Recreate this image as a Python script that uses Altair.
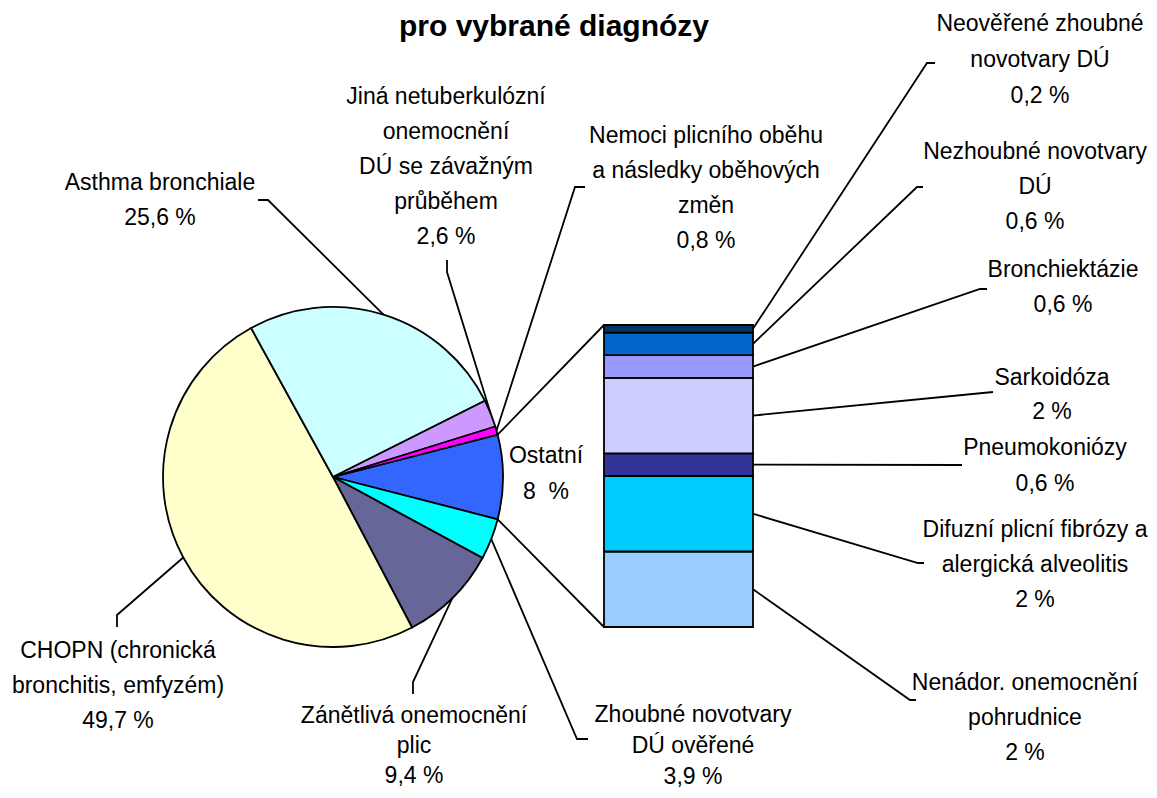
import math
import altair as alt
import pandas as pd

# ---------------- data ----------------
title_text = "pro vybrané diagnózy"

# pie slices, clockwise starting with the "Ostatní" slice (exploded into the bar)
pie_labels = [
    "Ostatní",
    "Zhoubné novotvary\nDÚ ověřené",
    "Zánětlivá onemocnění\nplic",
    "CHOPN (chronická\nbronchitis, emfyzém)",
    "Asthma bronchiale",
    "Jiná netuberkulózní\nonemocnění\nDÚ se závažným\nprůběhem",
    "Nemoci plicního oběhu\na následky oběhových\nzměn",
]
pie_values = [8.0, 3.9, 9.4, 49.7, 25.6, 2.6, 0.8]
pie_colors = ["#3366FF", "#00FFFF", "#666699", "#FFFFCC", "#CCFFFF", "#CC99FF", "#FF00FF"]

# bar of "Ostatní", bottom to top
bar_labels = [
    "Nenádor. onemocnění\npohrudnice",
    "Difuzní plicní fibrózy a\nalergická alveolitis",
    "Pneumokoniózy",
    "Sarkoidóza",
    "Bronchiektázie",
    "Nezhoubné novotvary\nDÚ",
    "Neověřené zhoubné\nnovotvary DÚ",
]
bar_values = [2.0, 2.0, 0.6, 2.0, 0.6, 0.6, 0.2]
bar_colors = ["#99CCFF", "#00CCFF", "#333399", "#CCCCFF", "#9999FF", "#0066CC", "#003366"]

# ---------------- layout (page pixel coordinates) ----------------
W, H = 1141, 782
M = 8
PIE_CX, PIE_CY, PIE_R = 333, 477, 170
BAR_X0, BAR_X1, BAR_Y_BOTTOM, BAR_Y_TOP = 604, 753, 627, 325
FONT = "Liberation Sans, Arial, sans-serif"

# label placement: (center x, first line center y, line gap)
pie_label_pos = [
    (546, 456, 36),
    (693, 715, 31),
    (414, 716, 30),
    (118, 651, 35),
    (160, 183, 35),
    (446, 97, 35),
    (706, 136, 35),
]
# leader elbows for pie labels (after the anchor, toward the label)
pie_leader = [
    None,
    [(577, 739), (588, 739)],
    [(413, 682), (413, 694)],
    [(117, 615), (117, 627)],
    [(268, 200), (258, 200)],
    [(447, 272), (447, 260)],
    [(575, 187), (585, 187)],
]
bar_label_pos = [
    (1025, 683, 35),
    (1035, 530, 35),
    (1045, 448, 36),
    (1052, 378, 34),
    (1063, 270, 35),
    (1035, 152, 35),
    (1040, 24, 36),
]
bar_leader = [
    [(910, 700), (916, 700)],
    [(918, 563), (924, 563)],
    [(962, 465)],
    [(993, 392)],
    [(980, 289), (987, 289)],
    [(917, 187), (923, 187)],
    [(927, 63), (935, 63)],
]


def fmt(v):
    return f"{v:g}".replace(".", ",") + " %"


# ---------------- derived tables ----------------
total = sum(pie_values)
start_deg = 90 - pie_values[0] / total * 360 / 2
start_rad = math.radians(start_deg)

pie_df = pd.DataFrame({
    "label": pie_labels, "value": pie_values, "color": pie_colors,
    "idx": list(range(len(pie_values))),
})

cum = 0.0
bar_start, bar_end = [], []
for v in bar_values:
    bar_start.append(cum)
    cum += v
    bar_end.append(cum)
bar_total = cum
bar_df = pd.DataFrame({"label": bar_labels, "value": bar_values, "color": bar_colors,
                       "start": bar_start, "end": bar_end})


def pie_point(deg):
    a = math.radians(deg)
    return (PIE_CX + PIE_R * math.sin(a), PIE_CY - PIE_R * math.cos(a))


def bar_y(v):
    return BAR_Y_BOTTOM - (BAR_Y_BOTTOM - BAR_Y_TOP) * v / bar_total


lines = []
text_rows = []
acc = start_deg
for i, (lab, v) in enumerate(zip(pie_labels, pie_values)):
    a0 = acc
    a1 = acc + v / total * 360
    acc = a1
    cx, cy, gap = pie_label_pos[i]
    parts = lab.split("\n") + [("8\u00a0\u00a0%" if i == 0 else fmt(v))]
    for k, t in enumerate(parts):
        text_rows.append({"px": cx, "py": cy + k * gap, "text": t})
    if pie_leader[i] is not None:
        pts = [pie_point((a0 + a1) / 2)] + pie_leader[i]
        for k, (x, y) in enumerate(pts):
            lines.append({"id": f"p{i}", "idx": k, "px": x, "py": y})
    if i == 0:
        for j, (ang, by) in enumerate([(a0, BAR_Y_TOP), (a1, BAR_Y_BOTTOM)]):
            x, y = pie_point(ang)
            lines.append({"id": f"c{j}", "idx": 0, "px": x, "py": y})
            lines.append({"id": f"c{j}", "idx": 1, "px": BAR_X0, "py": by})

for i, (lab, v) in enumerate(zip(bar_labels, bar_values)):
    cx, cy, gap = bar_label_pos[i]
    parts = lab.split("\n") + [fmt(v)]
    for k, t in enumerate(parts):
        text_rows.append({"px": cx, "py": cy + k * gap, "text": t})
    mid = (bar_start[i] + bar_end[i]) / 2
    pts = [(BAR_X1, bar_y(mid))] + bar_leader[i]
    for k, (x, y) in enumerate(pts):
        lines.append({"id": f"b{i}", "idx": k, "px": x, "py": y})

lines_df = pd.DataFrame(lines)
text_df = pd.DataFrame(text_rows)

xs = alt.Scale(domain=[M, M + W], range=[0, W])
ys = alt.Scale(domain=[M, M + H], range=[0, H])

pie = alt.Chart(pie_df).mark_arc(outerRadius=PIE_R, stroke="black", strokeWidth=1.8).encode(
    theta=alt.Theta("value:Q", stack=True,
                    scale=alt.Scale(range=[start_rad, start_rad + 2 * math.pi])),
    order=alt.Order("idx:Q"),
    color=alt.Color("color:N", scale=None),
    x=alt.value(PIE_CX - M),
    y=alt.value(PIE_CY - M),
)

bar = alt.Chart(bar_df).mark_rect(stroke="black", strokeWidth=1.8).encode(
    y=alt.Y("start:Q", scale=alt.Scale(domain=[0, bar_total],
                                        range=[BAR_Y_BOTTOM - M, BAR_Y_TOP - M]), axis=None),
    y2="end:Q",
    x=alt.value(BAR_X0 - M),
    x2=alt.value(BAR_X1 - M),
    color=alt.Color("color:N", scale=None),
)

leaders = alt.Chart(lines_df).mark_line(color="black", strokeWidth=1.8).encode(
    x=alt.X("px:Q", scale=xs, axis=None),
    y=alt.Y("py:Q", scale=ys, axis=None),
    detail="id:N",
    order="idx:Q",
)

labels = alt.Chart(text_df).mark_text(
    font=FONT, fontSize=23, color="black", align="center", baseline="middle"
).encode(
    x=alt.X("px:Q", scale=xs, axis=None),
    y=alt.Y("py:Q", scale=ys, axis=None),
    text="text:N",
)

title = alt.Chart(pd.DataFrame({"px": [554], "py": [36], "text": [title_text]})).mark_text(
    font=FONT, fontSize=30, fontWeight="bold", color="black", align="center", baseline="alphabetic"
).encode(
    x=alt.X("px:Q", scale=xs, axis=None),
    y=alt.Y("py:Q", scale=ys, axis=None),
    text="text:N",
)

chart = alt.layer(pie, bar, leaders, labels, title).resolve_scale(
    x="independent", y="independent"
).properties(
    width=W, height=H, padding=0, autosize=alt.AutoSizeParams(type="none")
).configure_view(stroke=None)

chart.save("out.html", embed_options={"renderer": "svg", "actions": False})
